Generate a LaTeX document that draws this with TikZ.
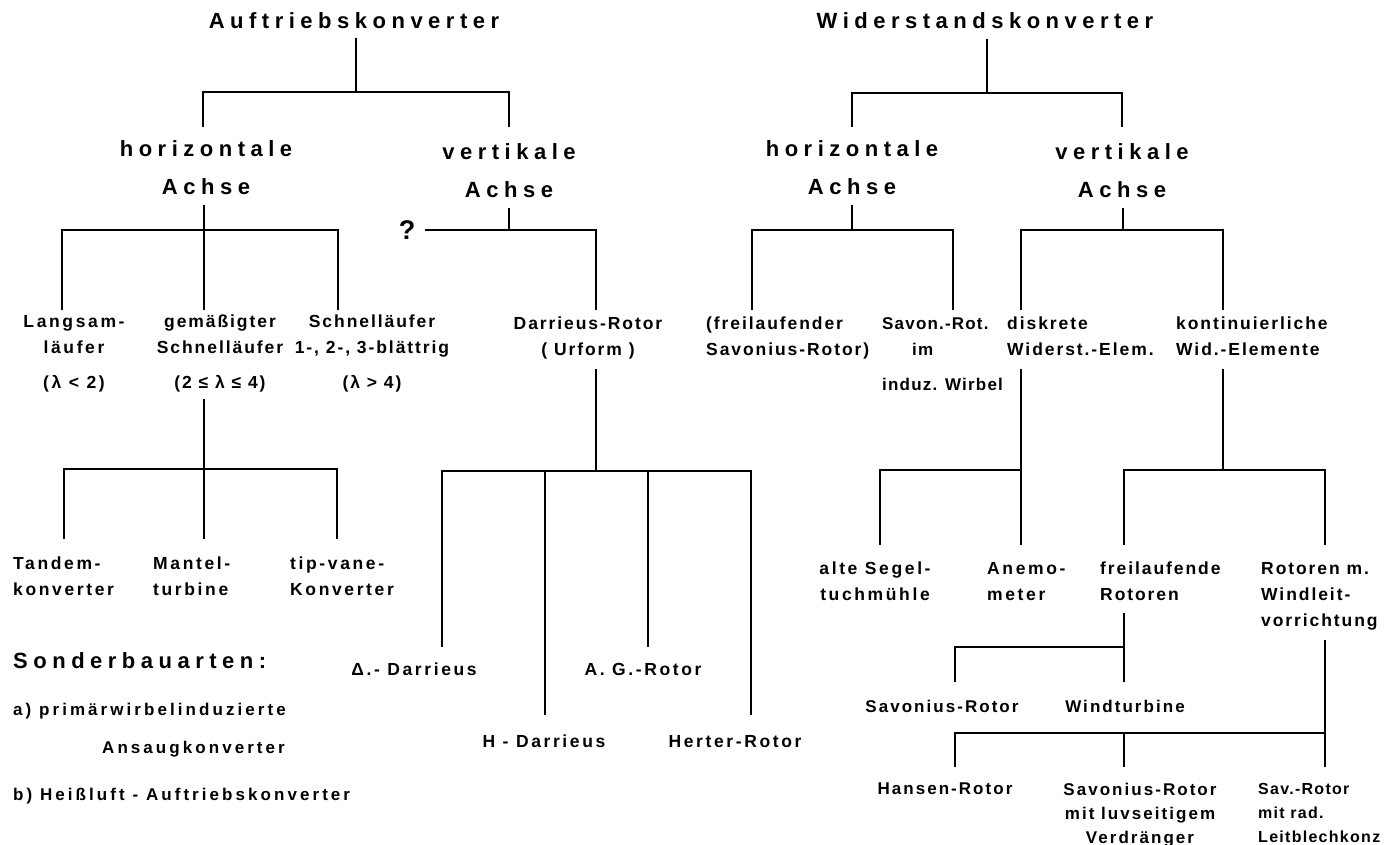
\documentclass[tikz,border=0pt]{standalone}
\usepackage{fontspec}
\setmainfont{Liberation Sans}
\newcommand\hdfont{\fontsize{22}{38}\selectfont\bfseries\addfontfeatures{LetterSpace=25}}
\newcommand\txfont{\fontsize{17.5}{26}\selectfont\bfseries\addfontfeatures{LetterSpace=11}}
\newcommand\tnfont{\fontsize{17}{26}\selectfont\bfseries\addfontfeatures{LetterSpace=7}}
\newcommand\twfont{\fontsize{17.5}{26}\selectfont\bfseries\addfontfeatures{LetterSpace=15}}
\newcommand\smfont{\fontsize{17}{24}\selectfont\bfseries\addfontfeatures{LetterSpace=12}}
\newcommand\snfont{\fontsize{16}{24}\selectfont\bfseries\addfontfeatures{LetterSpace=8}}
\newcommand\lsfont{\fontsize{17}{24}\selectfont\bfseries\addfontfeatures{LetterSpace=18}}
\tikzset{
  hd/.style={font=\hdfont, inner sep=0pt, align=center},
  tx/.style={font=\txfont, inner sep=0pt, align=center},
  tl/.style={font=\txfont, inner sep=0pt, align=left},
  tn/.style={font=\tnfont, inner sep=0pt, align=left},
  tw/.style={font=\twfont, inner sep=0pt, align=center},
  twl/.style={font=\twfont, inner sep=0pt, align=left},
  sm/.style={font=\smfont, inner sep=0pt, align=center},
  sl/.style={font=\snfont, inner sep=0pt, align=left},
  ls/.style={font=\lsfont, inner sep=0pt, anchor=base west},
  tree/.style={line width=2.8pt},
}
\begin{document}
\begin{tikzpicture}[x=1pt, y=-1pt]
  \useasboundingbox (0,0) rectangle (1393,845);
  % Nodes
  \node (auf) [hd, anchor=north] at (354,12) {Auftriebskonverter};
  \node (wid) [hd, anchor=north] at (985,12) {Widerstandskonverter};
  \node (lhz) [hd, anchor=north] at (206,140) {horizontale\\Achse};
  \node (lvt) [hd, anchor=north] at (509,143) {vertikale\\Achse};
  \node (rhz) [hd, anchor=north] at (852,140) {horizontale\\Achse};
  \node (rvt) [hd, anchor=north] at (1122,143) {vertikale\\Achse};
  \node (frage) [font=\fontsize{27}{27}\selectfont\bfseries, inner sep=0pt] at (407,230) {?};
  \node (lang) [tw, anchor=north] at (74,315) {Langsam-\\läufer\\[9pt](λ < 2)};
  \node (gem) [tx, anchor=north] at (220,315) {gemäßigter\\Schnelläufer\\[9pt](2 ≤ λ ≤ 4)};
  \node (schn) [tx, anchor=north] at (372,315) {Schnelläufer\\1-, 2-, 3-blättrig\\[9pt](λ > 4)};
  \node (dar) [tx, anchor=north] at (588,317) {Darrieus-Rotor\\( Urform )};
  \node (frs) [tl, anchor=north west] at (706,317) {(freilaufender\\Savonius-Rotor)};
  \node (sav) [tn, anchor=north west] at (882,317) {Savon.-Rot.\\\hspace*{30pt}im\\[9pt]induz. Wirbel};
  \node (disk) [tl, anchor=north west] at (1007,317) {diskrete\\Widerst.-Elem.};
  \node (kont) [tl, anchor=north west] at (1176,317) {kontinuierliche\\Wid.-Elemente};
  \node (tand) [twl, anchor=north west] at (13,557) {Tandem-\\konverter};
  \node (mant) [twl, anchor=north west] at (153,557) {Mantel-\\turbine};
  \node (tipv) [twl, anchor=north west] at (290,557) {tip-vane-\\Konverter};
  \node (alte) [tw, anchor=north] at (875,562) {alte Segel-\\tuchmühle};
  \node (anem) [twl, anchor=north west] at (987,562) {Anemo-\\meter};
  \node (frei) [tl, anchor=north west] at (1100,562) {freilaufende\\Rotoren};
  \node (rotm) [tl, anchor=north west] at (1261,562) {Rotoren m.\\Windleit-\\vorrichtung};
  \node (ddel) [tw, anchor=north] at (414,663) {Δ.- Darrieus};
  \node (dag) [tw, anchor=north] at (643,663) {A. G.-Rotor};
  \node (dh) [tw, anchor=north] at (544,735) {H - Darrieus};
  \node (dher) [tw, anchor=north] at (735,735) {Herter-Rotor};
  \node (svr) [sm, anchor=north] at (942,700) {Savonius-Rotor};
  \node (wtb) [sm, anchor=north] at (1125,700) {Windturbine};
  \node (hans) [sm, anchor=north] at (945,783) {Hansen-Rotor};
  \node (svl) [sm, anchor=north] at (1140,783) {Savonius-Rotor\\mit luvseitigem\\Verdränger};
  \node (svrad) [sl, anchor=north west] at (1258,783) {Sav.-Rotor\\mit rad.\\Leitblechkonz};
  \node (sond) [hd, anchor=base west] at (13,668) {Sonderbauarten:};
  \node (sa) [ls] at (13,715) {a) primärwirbelinduzierte};
  \node (sa2) [ls] at (102,753) {Ansaugkonverter};
  \node (sb) [ls] at (13,800) {b) Heißluft - Auftriebskonverter};
  % Junctions
  \coordinate (aufj) at (356,92);
  \coordinate (widj) at (987,93);
  \coordinate (lhzj) at (204,230);
  \coordinate (lvtj) at (509,230);
  \coordinate (rhzj) at (852,230);
  \coordinate (rvtj) at (1123,230);
  \coordinate (gemj) at (204,469);
  \coordinate (darj) at (596,471);
  \coordinate (diskj) at (1021,470);
  \coordinate (kontj) at (1223,470);
  \coordinate (freij) at (1124,647);
  \coordinate (rotmj) at (1325,733);
  % Lines
  \draw[tree, shorten <=9pt] (auf.south -| aufj) -- (aufj);
  \draw[tree, shorten >=13pt] (aufj) -| ([xshift=-3pt]lhz.north);
  \draw[tree, shorten >=16pt] (aufj) -| (lvt.north);
  \draw[tree, shorten <=10pt] (wid.south -| widj) -- (widj);
  \draw[tree, shorten >=13pt] (widj) -| (rhz.north);
  \draw[tree, shorten >=16pt] (widj) -| (rvt.north);
  \draw[tree, shorten <=10pt] (lhz.south -| lhzj) -- (lhzj);
  \draw[tree, shorten >=5pt] (lhzj) -| ([xshift=-12pt]lang.north);
  \draw[tree, shorten >=5pt] (lhzj) -| ([xshift=-16pt]gem.north);
  \draw[tree, shorten >=5pt] (lhzj) -| ([xshift=-34pt]schn.north);
  \draw[tree, shorten <=10pt] (lvt.south) -- (lvtj);
  \draw[tree, shorten <=10pt, shorten >=7pt] (frage) -- (lvtj) -| ([xshift=8pt]dar.north);
  \draw[tree, shorten <=10pt] (rhz.south) -- (rhzj);
  \draw[tree, shorten >=7pt] (rhzj) -| ([xshift=46pt]frs.north west);
  \draw[tree, shorten >=7pt] (rhzj) -| ([xshift=71pt]sav.north west);
  \draw[tree, shorten <=10pt] (rvt.south -| rvtj) -- (rvtj);
  \draw[tree, shorten >=7pt] (rvtj) -| ([xshift=14pt]disk.north west);
  \draw[tree, shorten >=7pt] (rvtj) -| ([xshift=47pt]kont.north west);
  \draw[tree, shorten <=6pt] (gem.south -| gemj) -- (gemj);
  \draw[tree, shorten >=18pt] (gemj) -| ([xshift=51pt]tand.north west);
  \draw[tree, shorten >=18pt] (gemj) -| ([xshift=51pt]mant.north west);
  \draw[tree, shorten >=18pt] (gemj) -| ([xshift=47pt]tipv.north west);
  \draw[tree, shorten <=9pt] (dar.south -| darj) -- (darj);
  \draw[tree, shorten >=16pt] (darj) -| ([xshift=28pt]ddel.north);
  \draw[tree, shorten >=16pt] (darj) -| ([xshift=5pt]dag.north);
  \draw[tree, shorten >=20pt] (darj) -| ([xshift=1pt]dh.north);
  \draw[tree, shorten >=20pt] (darj) -| ([xshift=16pt]dher.north);
  \draw[tree, shorten <=13pt] (disk.south -| diskj) -- (diskj);
  \draw[tree, shorten >=17pt] (diskj) -| ([xshift=5pt]alte.north);
  \draw[tree, shorten >=17pt] (diskj) -| ([xshift=34pt]anem.north west);
  \draw[tree, shorten <=13pt] (kont.south -| kontj) -- (kontj);
  \draw[tree, shorten >=17pt] (kontj) -| ([xshift=24pt]frei.north west);
  \draw[tree, shorten >=17pt] (kontj) -| ([xshift=64pt]rotm.north west);
  \draw[tree, shorten <=12pt] (frei.south -| freij) -- (freij);
  \draw[tree, shorten >=18pt] (freij) -- (wtb.north -| freij);
  \draw[tree, shorten >=18pt] (freij) -| ([xshift=13pt]svr.north);
  \draw[tree, shorten <=10pt] (rotm.south -| rotmj) -- (rotmj);
  \draw[tree, shorten >=16pt] (rotmj) -- (svrad.north west -| rotmj);
  \draw[tree, shorten >=16pt] (rotmj) -| ([xshift=10pt]hans.north);
  \draw[tree, shorten >=16pt] (rotmj) -| ([xshift=-16pt]svl.north);
\end{tikzpicture}
\end{document}
